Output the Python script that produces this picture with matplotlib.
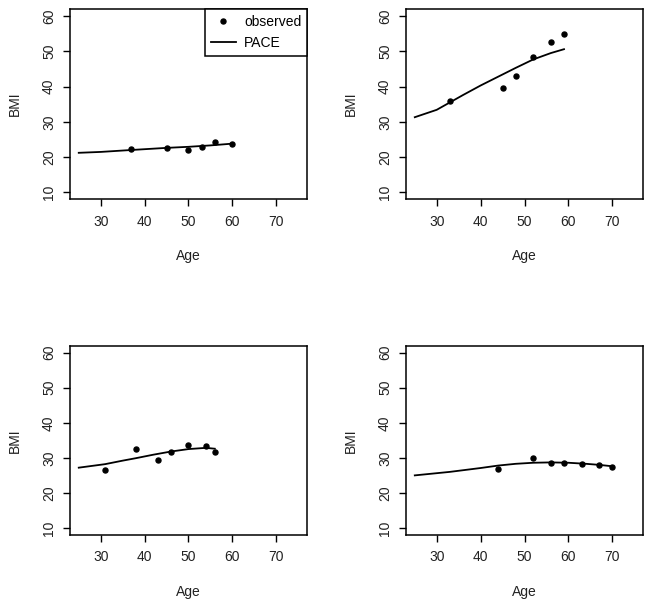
import matplotlib

matplotlib.use("Agg")
import matplotlib.pyplot as plt

plt.rcParams["font.family"] = ["Liberation Sans", "DejaVu Sans"]

# observed BMI per subject
obs_age_1 = [37, 45, 50, 53, 56, 60]
obs_bmi_1 = [22.2, 22.6, 22.0, 22.75, 24.2, 23.7]
obs_age_2 = [33, 45, 48, 52, 56, 59]
obs_bmi_2 = [35.8, 39.6, 42.9, 48.5, 52.5, 54.9]
obs_age_3 = [31, 38, 43, 46, 50, 54, 56]
obs_bmi_3 = [26.6, 32.4, 29.3, 31.8, 33.6, 33.5, 31.6]
obs_age_4 = [44, 52, 56, 59, 63, 67, 70]
obs_bmi_4 = [26.8, 30.0, 28.4, 28.6, 28.3, 27.95, 27.3]

# PACE fitted trajectories
fit_age_1 = [25, 30, 37, 45, 50, 55, 60]
fit_bmi_1 = [21.2, 21.45, 22.0, 22.6, 22.9, 23.3, 23.8]
fit_age_2 = [25, 30, 33, 36, 40, 44, 48, 52, 56, 59]
fit_bmi_2 = [31.3, 33.4, 35.5, 37.6, 40.3, 42.8, 45.3, 47.7, 49.5, 50.6]
fit_age_3 = [25, 31, 35, 38, 42, 46, 50, 54, 56]
fit_bmi_3 = [27.2, 28.2, 29.2, 29.9, 30.9, 31.8, 32.5, 32.85, 32.6]
fit_age_4 = [25, 33, 40, 44, 48, 52, 56, 60, 64, 67, 70]
fit_bmi_4 = [25.0, 26.0, 27.1, 27.8, 28.3, 28.6, 28.7, 28.6, 28.3, 28.0, 27.6]

panels = [
    (obs_age_1, obs_bmi_1, fit_age_1, fit_bmi_1),
    (obs_age_2, obs_bmi_2, fit_age_2, fit_bmi_2),
    (obs_age_3, obs_bmi_3, fit_age_3, fit_bmi_3),
    (obs_age_4, obs_bmi_4, fit_age_4, fit_bmi_4),
]

x_ticks = [30, 40, 50, 60, 70]
y_ticks = [10, 20, 30, 40, 50, 60]

# axes boxes in figure fractions: left, bottom, width, height
boxes = [
    [0.107, 0.6727, 0.3624, 0.3125],
    [0.6208, 0.6727, 0.3624, 0.3125],
    [0.107, 0.1215, 0.3624, 0.3110],
    [0.6208, 0.1215, 0.3624, 0.3110],
]

fig = plt.figure(figsize=(6.54, 6.09), dpi=100)
for i, (oa, ob, fa, fb) in enumerate(panels):
    ax = fig.add_axes(boxes[i])
    l_fit, = ax.plot(fa, fb, color="black", lw=1.3, label="PACE")
    l_obs, = ax.plot(oa, ob, "o", color="black", ms=3.6, label="observed")
    ax.set_xlim(23, 77)
    ax.set_ylim(8, 62)
    ax.set_xticks(x_ticks)
    ax.set_yticks(y_ticks)
    ax.tick_params(direction="out", length=5, width=1, labelsize=10,
                   colors="black", labelcolor="#222222")
    ax.tick_params(axis="x", pad=6)
    ax.tick_params(axis="y", pad=5, labelrotation=90)
    for lab in ax.get_yticklabels():
        lab.set_va("center")
    for s in ax.spines.values():
        s.set_linewidth(1.1)
    ax.set_xlabel("Age", fontsize=10, color="#222222")
    ax.set_ylabel("BMI", fontsize=10, color="#222222")
    ax.xaxis.set_label_coords(0.5, -0.30)
    ax.xaxis.label.set_va("center")
    ax.yaxis.set_label_coords(-0.232, 0.5)
    ax.yaxis.label.set_va("center")
    if i == 0:
        leg = ax.legend([l_obs, l_fit], ["observed", "PACE"], loc="upper right",
                        borderaxespad=0, fancybox=False, framealpha=1,
                        edgecolor="black", fontsize=10, handlelength=1.8,
                        handletextpad=0.6, borderpad=0.4, labelspacing=0.55,
                        markerscale=1.0)
        leg.get_frame().set_linewidth(1.1)

fig.savefig("out.png", dpi=100)
